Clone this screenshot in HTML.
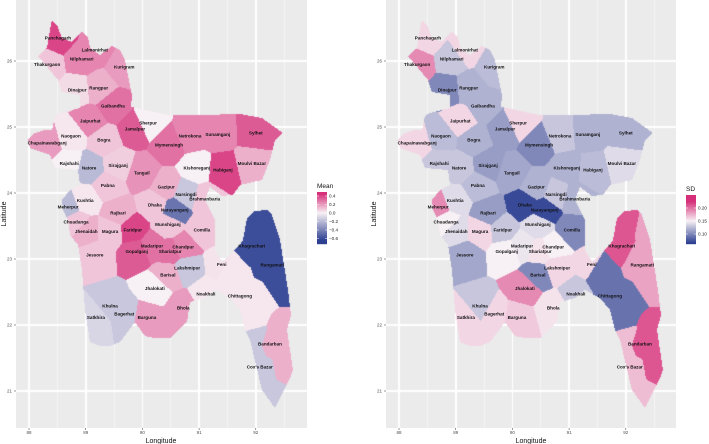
<!DOCTYPE html>
<html><head><meta charset="utf-8">
<style>
body{margin:0;background:#fff;width:709px;height:444px;overflow:hidden;position:relative;font-family:"Liberation Sans",sans-serif}
canvas{position:absolute;top:0}
svg{position:absolute;left:0;top:0}
</style></head>
<body>
<canvas id="c1" width="291" height="428" style="left:16px"></canvas>
<canvas id="c2" width="290" height="428" style="left:386px"></canvas>
<svg id="ov" width="709" height="444"></svg>
<script>
const names=["Panchagarh","Lalmonirhat","Nilphamari","Thakurgaon","Kurigram","Dinajpur","Rangpur","Gaibandha","Jaipurhat","Sherpur","Jamalpur","Naogaon","Bogra","Chapainawabganj","Netrokona","Sunamganj","Sylhet","Mymensingh","Rajshahi","Natore","Sirajganj","Tangail","Kishoreganj","Habiganj","Moulvi Bazar","Pabna","Gazipur","Narsingdi","Brahmanbaria","Kushtia","Meherpur","Dhaka","Narayanganj","Rajbari","Chuadanga","Munshiganj","Faridpur","Comilla","Jhenaidah","Magura","Madaripur","Gopalganj","Shariatpur","Chandpur","Jessore","Lakshmipur","Barisal","Feni","Khagrachari","Rangamati","Jhalokati","Noakhali","Chittagong","Khulna","Bhola","Satkhira","Bagerhat","Barguna","Bandarban","Cox's Bazar"];
const lons=[88.51,89.16,88.93,88.32,89.68,88.85,89.23,89.48,89.08,90.10,89.87,88.74,89.32,88.32,90.84,91.33,92.00,90.47,88.71,89.06,89.57,89.99,90.96,91.42,91.93,89.39,90.42,90.77,91.10,88.99,88.69,90.22,90.57,89.57,88.83,90.45,89.83,91.05,89.01,89.43,90.17,89.90,90.49,90.72,89.16,90.79,90.45,91.40,91.93,92.29,90.22,91.12,91.72,89.43,90.72,89.18,89.68,90.08,92.25,92.07];
const lats=[26.35,26.17,26.03,25.95,25.91,25.56,25.59,25.32,25.09,25.06,24.97,24.86,24.80,24.76,24.86,24.89,24.91,24.73,24.45,24.38,24.42,24.30,24.38,24.35,24.45,24.11,24.09,23.98,23.91,23.89,23.79,23.82,23.74,23.70,23.56,23.52,23.44,23.44,23.42,23.42,23.20,23.11,23.11,23.18,23.06,22.86,22.76,22.92,23.20,22.91,22.55,22.47,22.44,22.29,22.26,22.11,22.17,22.11,21.71,21.36];
const meanVals=[0.4,0.25,0.25,0.1,0.2,0.05,0.15,0.3,0.25,0.0,0.35,0.02,0.1,0.2,0.25,0.25,0.35,0.3,0.0,-0.2,0.08,0.22,0.0,0.4,0.15,0.1,0.15,-0.15,0.1,0.02,-0.2,0.1,-0.45,0.15,0.1,0.1,0.4,0.1,0.15,0.1,0.3,0.35,0.3,0.25,0.1,-0.15,0.15,0.03,-0.6,-0.6,0.0,0.02,0.02,-0.15,0.2,-0.1,-0.15,0.2,0.15,-0.15];
const sdVals=[0.16,0.16,0.13,0.19,0.125,0.10,0.12,0.12,0.16,0.16,0.11,0.125,0.12,0.16,0.13,0.12,0.12,0.10,0.13,0.13,0.11,0.115,0.12,0.125,0.14,0.125,0.12,0.13,0.12,0.14,0.19,0.07,0.07,0.11,0.15,0.14,0.13,0.10,0.14,0.16,0.145,0.15,0.155,0.15,0.115,0.16,0.10,0.16,0.21,0.18,0.19,0.13,0.09,0.13,0.155,0.16,0.16,0.165,0.21,0.17];
const lonTicks=[88,89,90,91,92];
const latTicks=[21,22,23,24,25,26];
const meanTicks=[0.4,0.2,0.0,-0.2,-0.4,-0.6];
const meanTickLabels=["0.4","0.2","0.0","\u22120.2","\u22120.4","\u22120.6"];
const sdTicks=[0.20,0.15,0.10];
const sdTickLabels=["0.20","0.15","0.10"];

const xA=lon=>29+(lon-88)*56.7;
const yA=lat=>61+(26-lat)*66;
// extra shape seeds (geometry helpers for elongated districts): [x,y,districtIndex]
const shapeSeeds=[[232,278,52],[250,318,52],[255,300,52],[228,268,52],[280,238,49],[282,282,49],[270,255,49],[250,232,48],[283,332,58],[287,362,58],[255,350,59],[268,398,59],[256,340,59]];
const outline=[[52,20],[57,25],[62,38],[72,42],[82,32],[88,37],[90,48],[100,55],[112,46],[120,50],[125,60],[128,75],[132,95],[131,107],[137,108],[155,112],[170,115],[200,115],[240,114],[262,118],[283,133],[275,140],[270,160],[262,180],[240,185],[233,195],[222,196],[210,187],[205,200],[215,220],[215,250],[222,262],[240,245],[243,240],[247,218],[255,211],[268,210],[272,215],[280,240],[288,290],[291,315],[287,330],[293,370],[290,378],[275,408],[262,390],[250,340],[245,330],[240,310],[230,298],[215,290],[205,298],[190,302],[187,322],[170,338],[155,338],[145,336],[135,322],[120,342],[110,346],[100,346],[90,342],[85,310],[82,270],[78,245],[70,235],[68,220],[63,210],[62,200],[70,190],[80,185],[78,170],[55,168],[50,155],[30,148],[28,140],[35,133],[45,130],[52,130],[55,116],[60,113],[80,108],[80,95],[62,92],[58,80],[38,56],[47,48],[48,42],[50,30]];
function inside(x,y){let c=false;for(let i=0,j=outline.length-1;i<outline.length;j=i++){const[xi,yi]=outline[i],[xj,yj]=outline[j];if(((yi>y)!=(yj>y))&&(x<(xj-xi)*(y-yi)/(yj-yi)+xi))c=!c;}return c;}
function mix(a,b,t){t=Math.max(0,Math.min(1,t));return a.map((v,i)=>Math.round(v+(b[i]-v)*t));}
const W=[247,240,244],P=[214,48,122],B=[44,63,145];
function meanCol(v){return v>=0?mix(W,P,v/0.45):mix(W,B,-v/0.65);}
function sdCol(v){return v>=0.15?mix(W,P,(v-0.15)/0.075):mix(W,B,(0.15-v)/0.085);}
function drawPanel(id,vals,colf){
  const cv=document.getElementById(id),ctx=cv.getContext('2d'),w=cv.width,h=cv.height;
  const img=ctx.createImageData(w,h),d=img.data;
  const px=lons.map(xA),py=lats.map(yA),pi=lons.map((_,i)=>i);
  shapeSeeds.forEach(s=>{px.push(s[0]);py.push(s[1]);pi.push(s[2]);});
  const cols=vals.map(colf);
  const gx=lonTicks.map(xA),gy=latTicks.map(yA);
  const mx=lonTicks.concat([87]).map(t=>xA(t+0.5)),my=latTicks.concat([20]).map(t=>yA(t+0.5));
  for(let y=0;y<h;y++)for(let x=0;x<w;x++){
    const k=(y*w+x)*4;let c=[235,235,235];
    const ax=x+16+0.5,ay=y+0.5;
    if(inside(ax,ay)){let best=1e9,bi=0;for(let i=0;i<px.length;i++){const dx=px[i]-ax,dy=py[i]-ay,dd=dx*dx+dy*dy;if(dd<best){best=dd;bi=pi[i];}}c=cols[bi];}
    else{
      if(gx.some(g=>Math.abs(g-ax)<0.8)||gy.some(g=>Math.abs(g-ay)<0.8))c=[255,255,255];
      else if(mx.some(g=>Math.abs(g-ax)<0.5)||my.some(g=>Math.abs(g-ay)<0.5))c=[245,245,245];
    }
    d[k]=c[0];d[k+1]=c[1];d[k+2]=c[2];d[k+3]=255;
  }
  ctx.putImageData(img,0,0);
}
drawPanel('c1',meanVals,meanCol);
drawPanel('c2',sdVals,sdCol);

const ov=document.getElementById('ov');const NS='http://www.w3.org/2000/svg';
function el(t,a,txt){const e=document.createElementNS(NS,t);for(const k in a)e.setAttribute(k,a[k]);if(txt!==undefined)e.textContent=txt;ov.appendChild(e);return e;}
[0,370].forEach((o,pi)=>{
  const pl=pi?386:16;
  names.forEach((n,i)=>{const t=el('text',{x:xA(lons[i])+o,y:yA(lats[i])+1.5,'font-size':4.6,'text-anchor':'middle','font-weight':'bold',fill:'#111'},n);
    
    });
  lonTicks.forEach(v=>{const t=el('text',{x:xA(v)+o,y:434,'font-size':4.5,'text-anchor':'middle',fill:'#4d4d4d'},String(v));
    
    
    el('line',{x1:xA(v)+o,x2:xA(v)+o,y1:428,y2:430,stroke:'#333','stroke-width':0.5});});
  latTicks.forEach(v=>{const t=el('text',{x:pl-4,y:yA(v)+1.5,'font-size':4.5,'text-anchor':'end',fill:'#4d4d4d'},String(v));
    
    
    el('line',{x1:pl-2,x2:pl,y1:yA(v),y2:yA(v),stroke:'#333','stroke-width':0.5});});
  const xt=el('text',{x:pl+145,y:443,'font-size':7,'text-anchor':'middle',fill:'#111'},'Longitude');
  
  
  const yt=el('text',{x:0,y:0,'font-size':7,'text-anchor':'middle',fill:'#111',transform:`translate(${pl-10},${214}) rotate(-90)`},'Latitude');
  
  
});
function legend(x,top,bot,valAt,colf,ticks,labels,yOf,title,name){
  const tt=el('text',{x:x,y:top-4,'font-size':6.5,fill:'#111'},title);
  
  
  for(let y=top;y<bot;y++){const c=colf(valAt(y+0.5));el('rect',{x:x,y:y,width:10,height:1.2,fill:`rgb(${c})`});}
  ticks.forEach((v,i)=>{const y=yOf(v);
    el('line',{x1:x,x2:x+2,y1:y,y2:y,stroke:'#fff','stroke-width':0.5});
    el('line',{x1:x+8,x2:x+10,y1:y,y2:y,stroke:'#fff','stroke-width':0.5});
    const t=el('text',{x:x+12,y:y+1.6,'font-size':4.6,fill:'#222'},labels[i]);
    
    });
}
legend(317,192,244,y=>(213-y)/42.5,meanCol,meanTicks,meanTickLabels,v=>213-v*42.5,'Mean','mean-legend');
legend(686,195,244,y=>0.15+(221-y)/260,sdCol,sdTicks,sdTickLabels,v=>221-(v-0.15)*260,'SD','sd-legend');
</script>
</body></html>
